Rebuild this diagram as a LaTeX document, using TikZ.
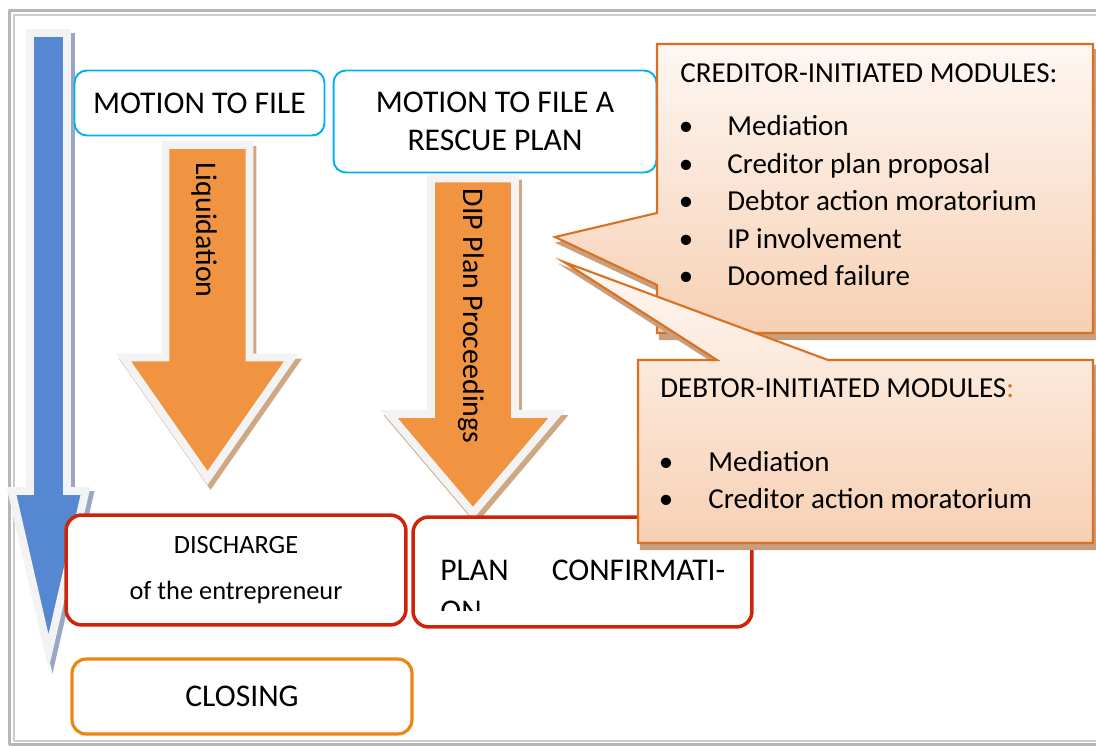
\documentclass[tikz,border=0pt]{standalone}
\usepackage{fontspec}
\setmainfont{Carlito}

\definecolor{framegray}{RGB}{182,182,182}
\definecolor{flowblue}{RGB}{85,136,208}
\definecolor{blueshadow}{RGB}{150,168,198}
\definecolor{arrowrim}{RGB}{243,243,243}
\definecolor{floworange}{RGB}{241,148,66}
\definecolor{orangeshadow}{RGB}{206,168,130}
\definecolor{motioncyan}{RGB}{0,176,240}
\definecolor{outcomered}{RGB}{208,36,10}
\definecolor{closingorange}{RGB}{236,134,18}
\definecolor{calloutline}{RGB}{218,112,32}
\definecolor{callouttop}{RGB}{254,247,242}
\definecolor{calloutbottom}{RGB}{247,208,180}
\definecolor{calloutshadow}{RGB}{200,160,125}

\begin{document}
\begin{tikzpicture}[x=0.02cm, y=-0.02cm, line join=round,
	motionbox/.style={draw=motioncyan, line width=1.1pt, rounded corners=7pt, fill=white, inner sep=0pt, align=center, font=\fontsize{18}{22}\selectfont},
	outcomebox/.style={draw=outcomered, line width=2pt, rounded corners=9pt, fill=white, inner sep=0pt, align=center},
	closingbox/.style={draw=closingorange, line width=1.8pt, rounded corners=8pt, fill=white, inner sep=0pt, font=\fontsize{18}{22}\selectfont},
	blockarrow/.style={draw=arrowrim, line width=4.5pt, line join=miter},
	arrowshade/.style={line width=4.5pt, line join=miter},
	arrowtext/.style={rotate=-90, inner sep=0pt, font=\fontsize{17}{20}\selectfont},
	callout/.style={draw=calloutline, line width=1.2pt, line join=miter, top color=callouttop, bottom color=calloutbottom},
	calloutshade/.style={draw=calloutshadow, fill=calloutshadow, line width=1.2pt, line join=miter, shift={(3,6)}},
	modtitle/.style={anchor=base west, inner sep=0pt, font=\fontsize{16.5}{20}\selectfont},
	moditem/.style={anchor=base west, inner sep=0pt, font=\fontsize{16.5}{20}\selectfont},
	bulletmark/.style={anchor=base, inner sep=0pt, font=\fontsize{16.5}{20}\selectfont}]
	\path[use as bounding box] (0,0) rectangle (1096,746);
	\draw[framegray, line width=1.7pt] (1110,10.5) -- (9.5,10.5) -- (9.5,744.5) -- (1110,744.5);
	\draw[framegray!70, line width=0.6pt] (1110,15) -- (14,15) -- (14,741) -- (1110,741);

	\path[arrowshade, fill=blueshadow, draw=blueshadow, shift={(4,4)}] (30,33) -- (67,33) -- (67,491) -- (85.5,491) -- (48.5,652) -- (11.5,491) -- (30,491) -- cycle;
	\path[blockarrow, fill=flowblue] (30,33) -- (67,33) -- (67,491) -- (85.5,491) -- (48.5,652) -- (11.5,491) -- (30,491) -- cycle;

	\foreach \cx/\ytop/\yneck/\ytip in {207.5/145/357.5/478, 473/178.5/414/513}{
		\path[arrowshade, fill=orangeshadow, draw=orangeshadow, shift={(3,5)}] ({\cx-42},\ytop) -- ({\cx+42},\ytop) -- ({\cx+42},\yneck) -- ({\cx+84},\yneck) -- (\cx,\ytip) -- ({\cx-84},\yneck) -- ({\cx-42},\yneck) -- cycle;
		\path[blockarrow, fill=floworange] ({\cx-42},\ytop) -- ({\cx+42},\ytop) -- ({\cx+42},\yneck) -- ({\cx+84},\yneck) -- (\cx,\ytip) -- ({\cx-84},\yneck) -- ({\cx-42},\yneck) -- cycle;
	}
	\node[arrowtext] (liq) at (204,230) {Liquidation};
	\node[arrowtext] (dip) at (471,316) {DIP Plan Proceedings};

	\node[motionbox, minimum width=5.0cm, minimum height=1.3cm] (file) at (199.5,103) {MOTION TO FILE};
	\node[motionbox, minimum width=6.46cm, minimum height=2.04cm] (rescue) at (495,121.5) {MOTION TO FILE A\\RESCUE PLAN};

	\node[outcomebox, minimum width=6.8cm, minimum height=2.2cm, font=\fontsize{15}{26.4}\selectfont] (discharge) at (236,570) {DISCHARGE\\of the entrepreneur};
	\node[outcomebox, minimum width=6.78cm, minimum height=2.2cm] (confirm) at (582.5,572) {};
	\begin{scope}
		\clip (415,520) rectangle (750,610);
		\node[anchor=base west, inner sep=0pt, text width=5.7cm, align=left, font=\fontsize{18}{23.2}\selectfont] (confirmtext) at (440,581) {PLAN\hfill CONFIRMATI-\\ON};
	\end{scope}
	\node[closingbox, minimum width=6.8cm, minimum height=1.5cm] (closing) at (242,696.5) {CLOSING};

	\path[calloutshade] (657,44) -- (1093,44) -- (1093,333) -- (657,333) -- (657,285) -- (555,237) -- (657,213) -- cycle;
	\path[callout] (657,44) -- (1093,44) -- (1093,333) -- (657,333) -- (657,285) -- (555,237) -- (657,213) -- cycle;
	\node[modtitle] (credtitle) at (680,83) {CREDITOR-INITIATED MODULES:};
	\foreach \mod [count=\i] in {Mediation, Creditor plan proposal, Debtor action moratorium, IP involvement, Doomed failure}{
		\node[bulletmark] (credbullet\i) at (686,{98.5+37.5*\i}) {\textbullet};
		\node[moditem] (creditem\i) at (727,{98.5+37.5*\i}) {\mod};
	}

	\path[calloutshade] (638,360) -- (717,360) -- (564,262) -- (828,360) -- (1093,360) -- (1093,543) -- (638,543) -- cycle;
	\path[callout] (638,360) -- (717,360) -- (564,262) -- (828,360) -- (1093,360) -- (1093,543) -- (638,543) -- cycle;
	\node[modtitle] (debttitle) at (660,398) {DEBTOR-INITIATED MODULES{\color{calloutline}:}};
	\foreach \mod/\yb [count=\i] in {Mediation/472, Creditor action moratorium/509}{
		\node[bulletmark] (debtbullet\i) at (666,\yb) {\textbullet};
		\node[moditem] (debtitem\i) at (708,\yb) {\mod};
	}
\end{tikzpicture}
\end{document}
